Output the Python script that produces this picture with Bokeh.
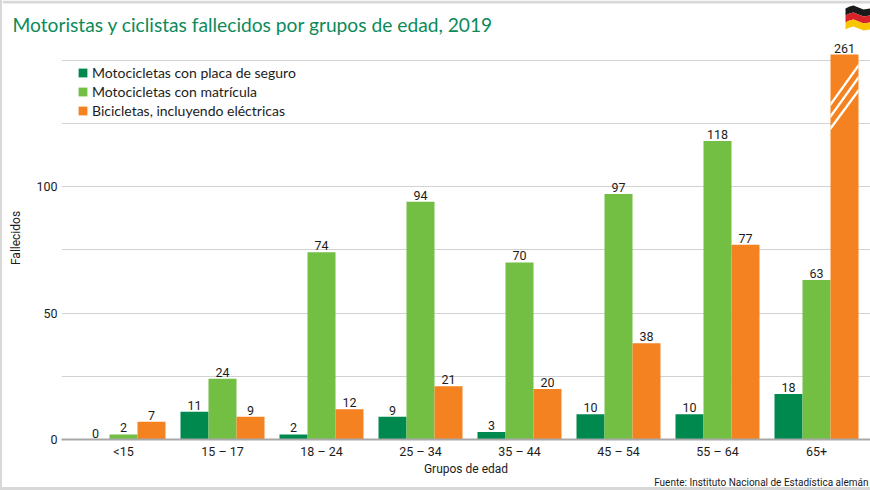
from bokeh.plotting import figure
from bokeh.layouts import column
from bokeh.core.properties import value
from bokeh.models import (ColumnDataSource, Range1d, FixedTicker, Label, LabelSet, Legend,
                          LegendItem, PolyAnnotation, Title)
from bokeh.embed import file_html
from bokeh.resources import INLINE

categories = ["<15", "15 – 17", "18 – 24", "25 – 34", "35 – 44", "45 – 54", "55 – 64", "65+"]
placa = [0, 11, 2, 9, 3, 10, 10, 18]
matricula = [2, 24, 74, 94, 70, 97, 118, 63]
bicicletas = [7, 9, 12, 21, 20, 38, 77, 261]
series_names = ["Motocicletas con placa de seguro", "Motocicletas con matrícula",
                "Bicicletas, incluyendo eléctricas"]
y_labels = [0, 50, 100]
grid_values = [0, 25, 50, 75, 100, 125, 150]

DARK, GREEN, ORANGE = "#00894f", "#72bf44", "#f58220"
INK = "#1c1c1c"
NARROW = "Roboto"
BODY = "Lato"
EDGE = "#d8d8d8"

W, H = 868, 487          # inside the left and bottom page borders
HEAD = 36                # height of the heading strip
BOTTOM = 48
LEFT = 59
PX_Y = 2.53
PX_X = 99.0
AXIS_Y = H - BOTTOM
BREAK = (AXIS_Y - 54) / PX_Y        # height at which the off-scale bar is cut
X_START = (61 - 123) / PX_X
X_END = (870 - 123) / PX_X
BAR = 28 / PX_X

# ---------- heading strip: title, flag, top border ----------
head = figure(width=W, height=HEAD, output_backend="svg", toolbar_location=None,
              x_range=Range1d(0, W), y_range=Range1d(0, HEAD), min_border=0,
              x_axis_location=None, y_axis_location=None, outline_line_color=None)
head.frame_align = False
head.grid.visible = False

head.add_layout(Label(x=10, y=HEAD - 24, x_units="screen", y_units="screen",
                      text="Motoristas y ciclistas fallecidos por grupos de edad, 2019",
                      text_font=BODY, text_font_size="19.2px", text_color="#0b8a5b",
                      text_baseline="middle"))
head.add_layout(PolyAnnotation(xs=[0, W, W, 0], ys=[HEAD, HEAD, HEAD - 3, HEAD - 3],
                               xs_units="screen", ys_units="screen",
                               fill_color=EDGE, fill_alpha=1, line_color=None))
flag_x = [843, 847, 851, 856, 861, 868]
flag_top = [8, 6, 5, 7, 9, 8]
for t0, t1, c in ((0, 7, "#1a1a1a"), (7, 14, "#d8232a"), (14, 21, "#f7c600")):
    ys_ = [HEAD - (u + t0) for u in flag_top] + [HEAD - (u + t1) for u in flag_top[::-1]]
    head.add_layout(PolyAnnotation(xs=flag_x + flag_x[::-1], ys=ys_,
                                   xs_units="screen", ys_units="screen",
                                   fill_color=c, fill_alpha=1, line_color=None))

# ---------- chart ----------
p = figure(width=W, height=H - HEAD, output_backend="svg", toolbar_location=None,
           x_range=Range1d(X_START, X_END), y_range=Range1d(0, (H - HEAD - BOTTOM) / PX_Y),
           min_border_left=LEFT, min_border_right=0, min_border_top=0, min_border_bottom=BOTTOM,
           outline_line_color=None, background_fill_color="white")
p.frame_align = False

p.xgrid.visible = False
p.ygrid.ticker = FixedTicker(ticks=grid_values)
p.ygrid.grid_line_color = "#d2d2d2"
p.ygrid.grid_line_width = 1

p.xaxis.ticker = FixedTicker(ticks=list(range(len(categories))))
p.xaxis.major_label_overrides = {i: c for i, c in enumerate(categories)}
p.yaxis.ticker = FixedTicker(ticks=y_labels)
for ax in (p.xaxis, p.yaxis):
    ax.major_tick_line_color = None
    ax.minor_tick_line_color = None
    ax.major_tick_out = 0
    ax.minor_tick_out = 0
    ax.major_label_text_font = NARROW
    ax.major_label_text_font_size = "12.5px"
    ax.major_label_text_color = INK
    ax.axis_label_text_font = NARROW
    ax.axis_label_text_font_size = "12px"
    ax.axis_label_text_font_style = "normal"
    ax.axis_label_text_color = INK
p.xaxis.axis_line_color = "#a8a8a8"
p.xaxis.axis_line_width = 2
p.yaxis.axis_line_color = None
p.xaxis.axis_label = "Grupos de edad"
p.yaxis.axis_label = "Fallecidos"
p.xaxis.major_label_standoff = 4
p.xaxis.axis_label_standoff = 0
p.yaxis.major_label_standoff = 4
p.yaxis.axis_label_standoff = 10

legend_items = []
for offset, vals, col, name in zip((-1, 0, 1), (placa, matricula, bicicletas),
                                   (DARK, GREEN, ORANGE), series_names):
    xs = [i + offset * BAR for i in range(len(categories))]
    shown = [min(v, BREAK) for v in vals]
    r = p.vbar(x="x", top="top", bottom=0, width=BAR, color=col, line_color=None,
               source=ColumnDataSource(dict(x=xs, top=shown, value=vals)))
    legend_items.append(LegendItem(label=name, renderers=[r]))
    lab = ColumnDataSource(dict(x=xs, y=shown, t=[str(v) for v in vals]))
    p.add_layout(LabelSet(x="x", y="y", text="t", source=lab, text_align="center",
                          text_baseline="bottom", y_offset=2, text_font=value(NARROW),
                          text_font_size="12.5px", text_color=INK))

# axis-break stripes on the cut bar
bx = len(categories) - 1 + BAR
stripe_x = [[bx - BAR / 2, bx + BAR / 2, bx + BAR / 2, bx - BAR / 2] for _ in range(3)]
rise = [(335, 374), (323, 362), (311, 349)]
stripe_y = [[(a - 2) / PX_Y, (b - 2) / PX_Y, (b + 2) / PX_Y, (a + 2) / PX_Y] for a, b in rise]
p.patches(stripe_x, stripe_y, fill_color="white", line_color=None)

legend = Legend(items=legend_items, location=(16, 319), orientation="vertical",
                background_fill_alpha=0, border_line_color=None, spacing=0, margin=0, padding=0,
                glyph_width=11, glyph_height=11, label_standoff=4, label_height=19,
                label_text_font=BODY, label_text_font_size="14px", label_text_color=INK)
p.add_layout(legend)

p.add_layout(Title(text="Fuente: Instituto Nacional de Estadística alemán", align="right",
                   text_font=NARROW, text_font_size="10px", text_color=INK,
                   text_font_style="normal", standoff=-8, offset=2), "below")

page = column(head, p, spacing=0,
              styles={"border-left": f"2px solid {EDGE}", "border-bottom": f"3px solid {EDGE}"})
open("out.html", "w").write(file_html(page, INLINE))
